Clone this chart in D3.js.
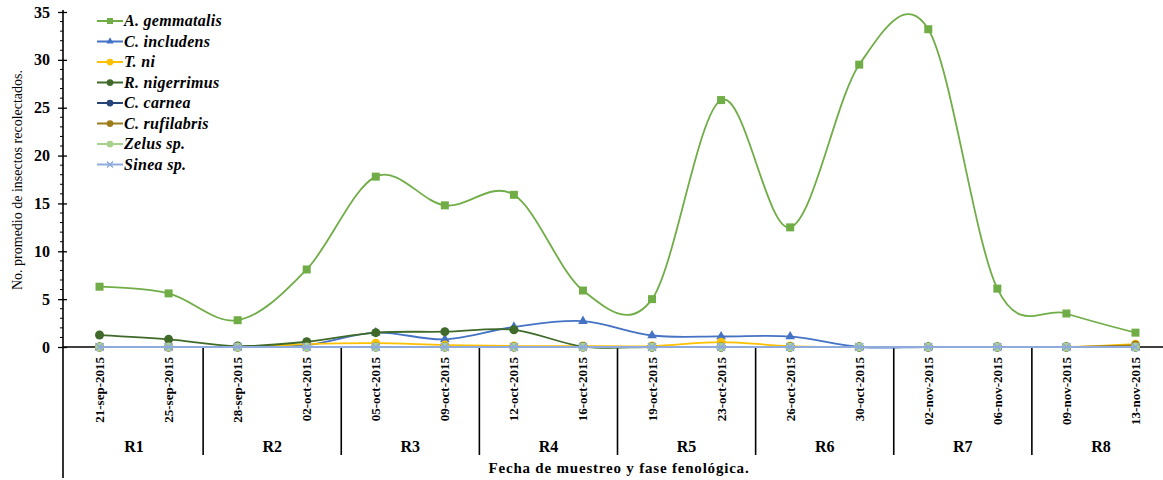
<!DOCTYPE html>
<html><head><meta charset="utf-8">
<script src="https://cdn.jsdelivr.net/npm/d3@7"></script>
<style>body{margin:0;background:#fff}svg{display:block}text{font-family:"Liberation Serif","Times New Roman",serif}</style>
</head><body>
<svg id="c" width="1163" height="480"></svg>
<script>
const dates = ["21-sep-2015","25-sep-2015","28-sep-2015","02-oct-2015","05-oct-2015","09-oct-2015","12-oct-2015","16-oct-2015","19-oct-2015","23-oct-2015","26-oct-2015","30-oct-2015","02-nov-2015","06-nov-2015","09-nov-2015","13-nov-2015"];
const phases = ["R1","R2","R3","R4","R5","R6","R7","R8"];
const yTicks = [0,5,10,15,20,25,30,35];
const seriesNames = ["A. gemmatalis","C. includens","T. ni","R. nigerrimus","C. carnea","C. rufilabris","Zelus sp.","Sinea sp."];
const gemmatalis = [6.3,5.6,2.8,8.1,17.8,14.8,15.9,5.9,5.0,25.8,12.5,29.5,33.2,6.1,3.5,1.5];
const includens  = [0,0,0,0.2,1.5,0.8,2.1,2.7,1.2,1.1,1.1,0,0,0,0,0];
const tni        = [0,0,0,0.3,0.4,0.2,0.1,0.1,0.1,0.5,0.1,0,0,0,0,0.3];
const nigerrimus = [1.25,0.8,0.1,0.55,1.5,1.6,1.8,0.05,0,0,0,0,0,0,0,0];
const carnea     = [0,0,0,0,0,0,0,0,0,0,0,0,0,0,0,0];
const rufilabris = [0,0,0,0,0,0,0,0,0,0,0,0,0,0,0,0.2];
const zelus      = [0,0,0,0,0,0,0,0,0,0,0,0,0,0,0,0];
const sinea      = [0,0,0,0,0,0,0,0,0,0,0,0,0,0,0,0];

const seriesVals = [gemmatalis,includens,tni,nigerrimus,carnea,rufilabris,zelus,sinea];
const colors = ["#70ad47","#4472c4","#ffc000","#3f6a2a","#264478","#9e7c1a","#a9d18e","#8faadc"];
const markers = ["square","triangle","circle","circle","circle","circle","circle","cross"];

const svg = d3.select("#c");
const x0 = 63, xr = 1170, yTop = 12, yZero = 347;
const x = d3.scaleBand().domain(dates).range([x0+2, xr]).paddingInner(0).paddingOuter(0);
const y = d3.scaleLinear().domain([0,35]).range([yZero, yTop]);
const cx = d => x(d) + x.bandwidth()/2;

// y axis
const yAxis = d3.axisLeft(y).tickValues(yTicks).tickSize(5).tickPadding(8);
const gy = svg.append("g").attr("transform",`translate(${x0},0)`).call(yAxis);
gy.select(".domain").remove();
gy.selectAll(".tick line").attr("x1",-5).attr("x2",4).attr("stroke","#000").attr("stroke-width",1.3);
gy.selectAll(".tick text").style("font-family","'Liberation Serif',serif").attr("font-weight","bold").attr("font-size",16).attr("fill","#000");
// minor ticks
const minors = d3.range(0,36).filter(v=>v%5!==0);
svg.append("g").selectAll("line").data(minors).join("line")
  .attr("x1",x0-3).attr("x2",x0).attr("y1",d=>y(d)).attr("y2",d=>y(d))
  .attr("stroke","#000").attr("stroke-width",1);
svg.append("line").attr("x1",x0).attr("x2",x0).attr("y1",yTop-2).attr("y2",478).attr("stroke","#000").attr("stroke-width",1.6);

// x axis line
svg.append("line").attr("x1",x0).attr("x2",1163).attr("y1",yZero).attr("y2",yZero).attr("stroke","#000").attr("stroke-width",1.6);
// group separators
const seps = d3.range(1,phases.length).map(i => x(dates[i*2]));
svg.append("g").selectAll("line").data(seps).join("line")
  .attr("x1",d=>d).attr("x2",d=>d).attr("y1",yZero).attr("y2",455)
  .attr("stroke","#000").attr("stroke-width",1.6);
// date labels
svg.append("g").selectAll("text").data(dates).join("text")
  .attr("transform",d=>`translate(${cx(d)+4.5},357) rotate(-90)`)
  .attr("text-anchor","end").attr("font-weight","bold").attr("font-size",13)
  .text(d=>d);
// phase labels
svg.append("g").selectAll("text").data(phases).join("text")
  .attr("x",(d,i)=> (cx(dates[i*2])+cx(dates[i*2+1]))/2).attr("y",452)
  .attr("text-anchor","middle").attr("font-weight","bold").attr("font-size",16)
  .text(d=>d);
// axis titles
svg.append("text").attr("x",619).attr("y",473).attr("text-anchor","middle")
  .attr("font-weight","bold").attr("font-size",15).attr("letter-spacing",0.8).text("Fecha de muestreo y fase fenológica.");
svg.append("text").attr("transform","translate(22,180) rotate(-90)").attr("text-anchor","middle")
  .attr("font-size",14).text("No. promedio de insectos recolectados.");

function drawMarker(g, type, color, px, py, s){
  s = s || 1;
  if(type==="square") g.append("rect").attr("x",px-4*s).attr("y",py-4*s).attr("width",8*s).attr("height",8*s).attr("fill",color);
  else if(type==="triangle") g.append("path").attr("d",d3.symbol(d3.symbolTriangle,40*s*s)()).attr("transform",`translate(${px},${py})`).attr("fill",color);
  else if(type==="circle") g.append("circle").attr("cx",px).attr("cy",py).attr("r",4.5*s).attr("fill",color);
  else if(type==="cross") g.append("path").attr("d",`M${px-4*s},${py-4*s}L${px+4*s},${py+4*s}M${px-4*s},${py+4*s}L${px+4*s},${py-4*s}`).attr("stroke",color).attr("stroke-width",1.5);
}

const line = d3.line().x((d,i)=>cx(dates[i])).y(d=>y(d)).curve(d3.curveCardinal.tension(0));
// Excel order: later series drawn on top
for(let s=0; s<seriesVals.length; s++){
  const g = svg.append("g");
  g.append("path").datum(seriesVals[s]).attr("d",line).attr("fill","none").attr("stroke",colors[s]).attr("stroke-width",1.8);
  seriesVals[s].forEach((v,i)=>drawMarker(g,markers[s],colors[s],cx(dates[i]),y(v)));
}

// legend
const lg = svg.append("g");
seriesNames.forEach((n,i)=>{
  const yy = 21 + i*20.5;
  lg.append("line").attr("x1",97).attr("x2",123).attr("y1",yy).attr("y2",yy).attr("stroke",colors[i]).attr("stroke-width",2);
  drawMarker(lg,markers[i],colors[i],110,yy,0.75);
  lg.append("text").attr("x",124).attr("y",yy+5).attr("font-style","italic").attr("font-weight","bold").attr("font-size",16).attr("letter-spacing",0.3).text(n);
});
</script>
</body></html>
